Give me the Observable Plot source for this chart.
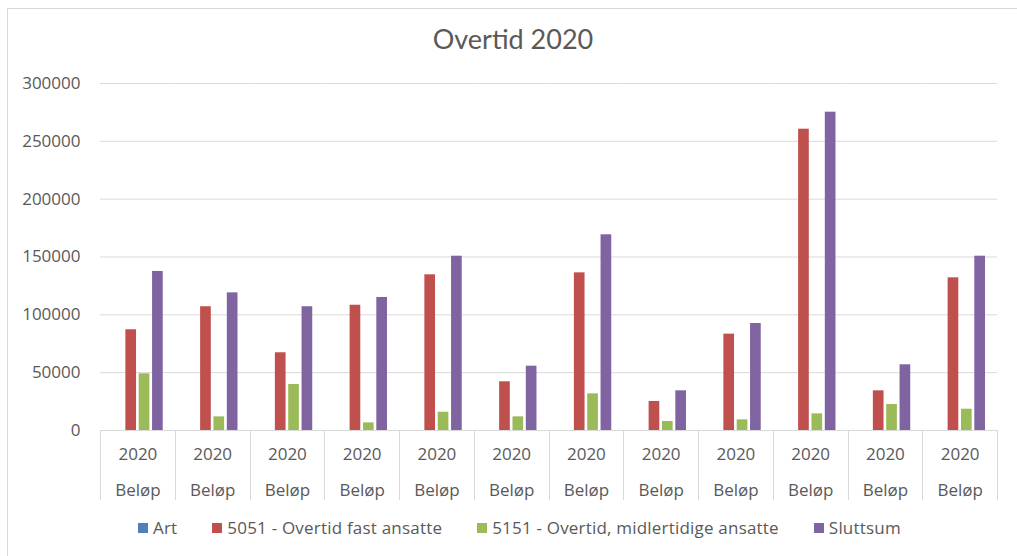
<!DOCTYPE html>
<html>
<head>
<meta charset="utf-8">
<script src="https://cdn.jsdelivr.net/npm/d3@7"></script>
<script src="https://cdn.jsdelivr.net/npm/@observablehq/plot@0.6"></script>
<style>
  html, body { margin: 0; padding: 0; background: #fff; overflow: hidden; }
  body { width: 1017px; height: 556px; position: relative; font-family: "Open Sans", Lato, sans-serif; color: #595959; }
  #border { position: absolute; left: 7px; top: 8px; width: 1200px; height: 700px; border: 1px solid #d9d9d9; box-sizing: border-box; }
  #title { position: absolute; left: 0; top: 24px; width: 1026px; text-align: center; font-family: Lato, sans-serif; font-size: 27px; line-height: 30px; color: #595959; }
  #chart { position: absolute; left: 0; top: 65px; }
  #legend { position: absolute; left: 138px; top: 517px; display: flex; align-items: center; font-size: 17px; line-height: 22px; letter-spacing: 0.2px; color: #595959; white-space: nowrap; }
  .item { display: flex; align-items: center; margin-right: 35px; }
  .sw { width: 10px; height: 10px; margin-right: 5px; }
</style>
</head>
<body>
<div id="border"></div>
<div id="title">Overtid 2020</div>
<div id="chart"></div>
<div id="legend"></div>
<script>
// ---- data ----
const periods  = ["2020","2020","2020","2020","2020","2020","2020","2020","2020","2020","2020","2020"];
const measures = ["Beløp","Beløp","Beløp","Beløp","Beløp","Beløp","Beløp","Beløp","Beløp","Beløp","Beløp","Beløp"];
const seriesNames = ["Art", "5051 - Overtid fast ansatte", "5151 - Overtid, midlertidige ansatte", "Sluttsum"];
const art          = [0, 0, 0, 0, 0, 0, 0, 0, 0, 0, 0, 0];
const overtidFast  = [87100, 107000, 67200, 108300, 134600, 42100, 136300, 25100, 83300, 260500, 34300, 132000];
const overtidMidl  = [49000, 11800, 39800, 6600, 15800, 11800, 31700, 7800, 9200, 14400, 22500, 18400];
const sluttsum     = [137500, 119000, 107000, 115000, 150700, 55600, 169200, 34300, 92500, 275200, 56800, 150700];
const seriesColors = ["#4F81BD", "#C0504D", "#9BBB59", "#8064A2"];
const yTicks = [0, 50000, 100000, 150000, 200000, 250000, 300000];

const seriesValues = [art, overtidFast, overtidMidl, sluttsum];
const catIds = periods.map((p, i) => i);
const data = catIds.flatMap(i => seriesNames.map((s, j) => ({cat: i, series: s, value: seriesValues[j][i]})));

const chart = Plot.plot({
  width: 1017,
  height: 445,
  marginTop: 18,
  marginBottom: 80,
  marginLeft: 100,
  marginRight: 20,
  style: {fontFamily: "'Open Sans', Lato, sans-serif", fontSize: "17px", color: "#595959", background: "transparent"},
  fx: {domain: catIds, padding: 0, round: false, axis: null},
  x: {domain: seriesNames, paddingInner: 0.2, paddingOuter: 0.9, round: false, axis: null},
  y: {domain: [0, 300000], axis: null},
  color: {domain: seriesNames, range: seriesColors},
  marks: [
    Plot.gridY(yTicks, {stroke: "#d9d9d9", strokeOpacity: 1, strokeWidth: 1}),
    Plot.axisY(yTicks, {tickSize: 0, tickPadding: 20, fontSize: 17, fill: "#595959", tickFormat: d => String(d), label: null}),
    Plot.barY(data, {fx: "cat", x: "series", y: "value", fill: "series"}),
    Plot.axisFx({anchor: "bottom", tickSize: 0, tickPadding: 17, fontSize: 17, fill: "#595959", tickFormat: i => periods[i], label: null}),
    Plot.axisFx({anchor: "bottom", tickSize: 0, tickPadding: 53, fontSize: 17, fill: "#595959", tickFormat: i => measures[i], label: null})
  ]
});
document.getElementById("chart").appendChild(chart);

// category dividers below the axis, placed with the plot's own scales
const fx = chart.scale("fx");
const y0 = chart.scale("y").apply(0);
const edges = catIds.map(i => fx.apply(i)).concat([fx.apply(catIds[catIds.length - 1]) + fx.bandwidth]);
const svg = d3.select(chart);
svg.append("g")
  .attr("stroke", "#d9d9d9")
  .selectAll("line")
  .data(edges)
  .join("line")
  .attr("x1", d => Math.round(d) + 0.5)
  .attr("x2", d => Math.round(d) + 0.5)
  .attr("y1", y0)
  .attr("y2", y0 + 70);

// legend
const legend = d3.select("#legend");
seriesNames.forEach((s, j) => {
  const it = legend.append("div").attr("class", "item");
  it.append("div").attr("class", "sw").style("background", seriesColors[j]);
  it.append("span").text(s);
});
</script>
</body>
</html>
